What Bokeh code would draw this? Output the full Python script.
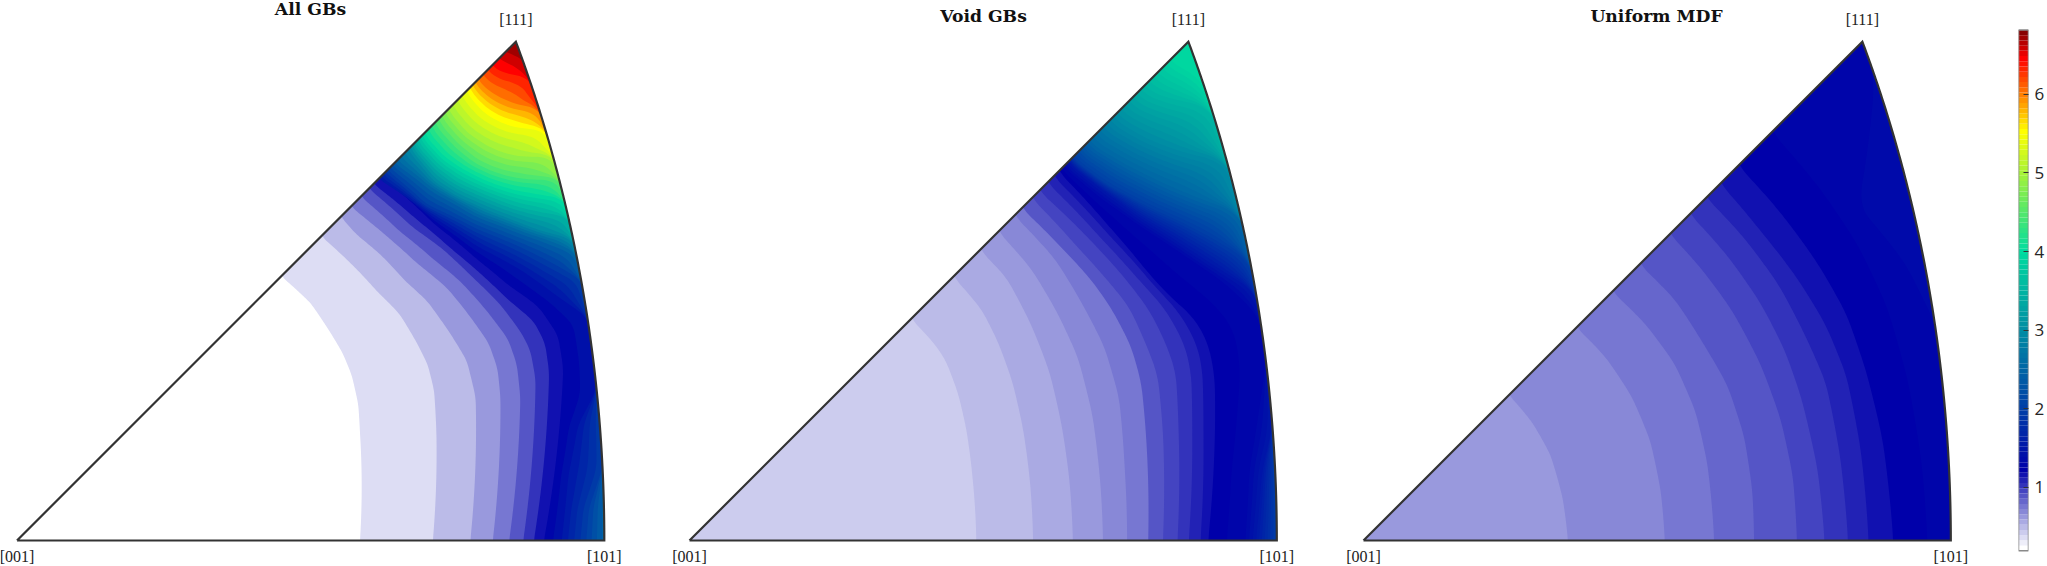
import numpy as np
from bokeh.core.properties import value
from bokeh.embed import file_html
from bokeh.layouts import row
from bokeh.models import FixedTicker, LinearAxis, Range1d
from bokeh.plotting import figure
from bokeh.resources import INLINE

TITLES = ["All GBs", "Void GBs", "Uniform MDF"]
VERTEX_LABELS = ["[001]", "[101]", "[111]"]
CBAR_TICKS = [1, 2, 3, 4, 5, 6]
CBAR_MIN, CBAR_MAX, CBAR_STEPS = 0.19, 6.82, 100

# isolines of the density; coordinates in % of the [101] radius
ALL_Z = [0.3226, 0.455, 0.588, 0.72, 0.853, 0.986, 1.118, 1.25, 1.5, 2.0, 2.5, 3.0, 3.5, 4.0, 4.5, 5.0, 5.52, 6.0, 6.42, 6.69]
ALL_U = [
    [58.4, 58.4, 58.1, 57.0, 55.5, 53.3, 50.0, 45.2],
    [70.8, 71.4, 71.0, 69.9, 68.1, 65.1, 61.4, 58.1, 52.0],
    [77.2, 78.1, 76.6, 74.0, 69.9, 66.2, 62.2, 57.8, 55.3],
    [81.0, 82.3, 81.8, 80.3, 77.3, 73.3, 68.1, 64.0, 59.6, 57.0],
    [83.8, 85.7, 85.1, 83.6, 79.9, 75.5, 71.0, 65.1, 58.7],
    [86.2, 88.3, 87.4, 85.8, 82.1, 77.7, 72.5, 67.4, 60.0],
    [88.0, 90.6, 89.9, 88.0, 83.6, 78.4, 74.0, 68.1, 60.7],
    [89.7, 93.0, 92.1, 88.8, 83.6, 78.4, 71.0, 62.2],
    [92.6, 93.7, 95.4, 97.4, 98.4, 97.0, 91.7, 85.8, 78.4, 71.0, 61.5],
    [96.6, 97.1, 98.3, 99.4, 96.2, 91.0, 85.8, 78.4, 69.6, 62.6],
    [100.0, 95.3, 91.0, 85.8, 78.4, 71.0, 64.0],
    [94.8, 89.7, 85.2, 80.1, 75.0, 71.0, 67.0],
    [94.0, 89.2, 84.6, 79.5, 75.0, 71.6, 68.2],
    [93.2, 89.2, 84.6, 80.1, 76.1, 72.7, 69.6],
    [91.7, 86.9, 82.4, 78.4, 75.0, 71.9],
    [90.7, 86.9, 83.5, 80.1, 76.7, 73.8],
    [89.6, 86.3, 82.9, 79.8, 77.0],
    [88.6, 86.3, 83.5, 80.7, 78.4],
    [86.8, 85.2, 82.9, 80.8],
    [86.2, 84.6, 82.9],
]
ALL_V = [
    [0, 18.3, 23.2, 28.1, 31.8, 35.5, 40.4, 44.8],
    [0, 18.3, 25.6, 30.0, 33.6, 38.6, 42.3, 45.9, 51.6],
    [0, 24.4, 30.6, 34.9, 40.7, 44.1, 48.4, 52.1, 54.9],
    [0, 24.4, 29.3, 33.6, 37.9, 42.9, 47.2, 50.9, 54.6, 56.7],
    [0, 24.4, 30.0, 34.3, 39.2, 44.1, 47.8, 52.7, 58.4],
    [0, 27.5, 32.4, 35.5, 40.4, 44.7, 49.6, 53.3, 59.8],
    [0, 28.7, 33.6, 37.3, 41.0, 45.9, 49.6, 54.6, 60.7],
    [0, 29.3, 34.9, 39.8, 43.5, 47.8, 53.9, 61.9],
    [0, 11.2, 19.7, 25.4, 28.2, 37.9, 41.6, 45.9, 49.9, 54.9, 61.5],
    [0, 5.5, 12.3, 18.0, 44.4, 46.9, 49.6, 52.7, 57.0, 63.2],
    [0, 49.0, 50.6, 52.4, 55.2, 59.5, 64.7],
    [51.5, 52.6, 54.3, 56.3, 58.6, 61.2, 66.1],
    [55.2, 55.8, 56.9, 58.9, 60.9, 63.4, 67.1],
    [58.3, 58.6, 59.4, 60.9, 62.9, 65.1, 68.5],
    [61.4, 61.7, 62.6, 64.3, 67.1, 70.5],
    [65.4, 65.4, 66.0, 67.4, 69.7, 73.1],
    [70.0, 70.2, 71.1, 72.8, 75.9],
    [73.5, 73.8, 74.5, 75.9, 78.1],
    [78.9, 79.0, 79.6, 80.6],
    [81.0, 81.9, 82.6],
]

VOID_K = [4, 5, 6, 7, 8, 10, 11, 12, 13, 14, 15]
VOID_Z = [0.455, 0.5215, 0.588, 0.654, 0.72, 0.853, 0.919, 0.986, 1.052, 1.118, 1.1845, 1.317, 1.5, 2.0, 2.5, 3.0, 3.5, 3.9]
VOID_U = [
    [48.8, 48.2, 47.1, 45.7, 43.6, 41.8, 37.9],
    [58.5, 58.0, 56.8, 55.0, 52.6, 49.8, 45.1],
    [65.3, 64.7, 63.4, 61.3, 58.2, 54.0, 49.7],
    [70.4, 70.0, 68.6, 66.1, 62.7, 58.2, 52.7],
    [74.5, 74.1, 73.1, 70.6, 66.8, 62.3, 55.4],
    [78.1, 77.7, 76.9, 75.2, 72.0, 68.6, 63.0, 56.6],
    [80.6, 80.6, 79.7, 77.9, 74.8, 71.3, 65.8, 58.3],
    [83.1, 83.3, 82.8, 81.1, 78.3, 74.1, 67.9, 59.5],
    [85.0, 85.6, 85.4, 84.2, 81.1, 76.2, 70.0, 60.9],
    [87.0, 87.5, 87.3, 86.3, 83.5, 79.0, 71.3, 62.0],
    [88.3, 89.5, 89.4, 88.3, 85.9, 81.7, 78.3, 71.3, 62.7],
    [94.6, 95.3, 97.0, 98.0, 97.3, 91.5, 85.2, 76.9, 70.0, 63.4],
    [96.3, 97.4, 99.2, 96.3, 90.8, 85.2, 76.9, 70.0, 64.1],
    [100.0, 95.8, 90.8, 85.2, 78.3, 71.3, 65.1],
    [93.6, 88.7, 81.7, 74.8, 67.9],
    [91.2, 85.2, 78.3, 72.0],
    [88.7, 82.4, 76.9],
    [86.8, 83.8, 81.4],
]
VOID_V = [
    [0, 10.3, 18.9, 25.0, 30.6, 33.3, 37.5],
    [0, 9.7, 18.9, 26.9, 33.6, 39.2, 44.7],
    [0, 10.3, 19.5, 28.7, 36.7, 44.7, 49.2],
    [0, 9.0, 21.3, 31.2, 38.6, 46.2, 52.4],
    [0, 12.1, 24.4, 33.0, 40.4, 47.8, 55.2],
    [0, 18.3, 26.9, 33.0, 39.2, 44.1, 50.2, 56.5],
    [0, 18.3, 28.1, 33.0, 39.8, 44.1, 50.2, 58.2],
    [0, 18.3, 28.7, 33.6, 39.2, 44.7, 51.5, 59.5],
    [0, 18.3, 28.7, 33.6, 39.2, 44.7, 51.5, 60.9],
    [0, 18.3, 29.3, 33.6, 38.6, 43.5, 52.1, 61.9],
    [0, 21.3, 28.1, 33.6, 37.9, 41.6, 45.3, 53.6, 62.9],
    [0, 12.1, 22.6, 30.6, 37.9, 43.5, 47.8, 53.3, 58.2, 63.7],
    [0, 12.1, 19.5, 42.3, 45.6, 49.3, 54.6, 59.8, 64.4],
    [0, 47.8, 50.6, 53.6, 56.7, 60.4, 65.0],
    [55.8, 57.3, 60.1, 63.5, 67.5],
    [64.7, 65.9, 68.4, 72.1],
    [73.9, 74.8, 77.0],
    [79.2, 80.1, 81.6],
]

UNIF_K = [7, 8, 9, 10, 11, 12, 13, 14, 15, 16, 17]
UNIF_U = [
    [34.8, 33.9, 31.8, 28.7, 24.9],
    [51.3, 50.6, 48.8, 45.7, 41.2, 36.5],
    [59.7, 58.5, 56.5, 53.0, 48.1, 42.6],
    [66.5, 66.2, 64.8, 62.0, 57.8, 53.0, 47.3],
    [73.8, 73.1, 71.0, 67.6, 62.7, 57.8, 52.2],
    [78.5, 77.3, 74.5, 71.7, 67.6, 62.0, 55.6],
    [82.5, 81.1, 78.7, 75.2, 70.7, 64.8, 58.3],
    [86.0, 84.6, 82.2, 78.7, 73.8, 67.6, 60.8],
    [90.2, 88.4, 85.6, 82.2, 77.3, 71.0, 63.9],
    [96.0, 95.0, 92.6, 89.1, 84.2, 78.0, 69.7],
    [97.5, 92.2, 84.2, 88.0],
]
UNIF_V = [
    [0, 7.2, 14.6, 20.1, 24.6],
    [0, 8.4, 17.0, 24.4, 31.2, 36.0],
    [0, 13.3, 22.0, 30.0, 36.7, 42.1],
    [0, 8.4, 17.7, 26.3, 33.6, 41.0, 46.7],
    [0, 10.9, 20.7, 30.0, 39.2, 45.9, 52.1],
    [0, 12.1, 24.4, 32.4, 40.4, 48.4, 55.5],
    [0, 14.6, 26.9, 34.9, 43.5, 51.5, 58.4],
    [0, 15.8, 28.1, 36.7, 44.7, 52.7, 60.7],
    [0, 17.0, 28.7, 38.6, 47.2, 55.8, 63.7],
    [0, 13.3, 27.5, 39.8, 50.2, 59.5, 69.3],
    [37.0, 47.2, 57.0, 80.0],
]

# colormap knots (colorbar step index, rgb)
CM_K = [0, 15, 57, 80, 94, 99]
CM_R = [255, 0, 0, 255, 255, 136]
CM_G = [255, 0, 220, 255, 0, 0]
CM_B = [255, 170, 160, 0, 0, 0]
STEP = (CBAR_MAX - CBAR_MIN) / CBAR_STEPS


def cmap(k):
    return "#%02x%02x%02x" % (
        int(round(np.interp(k, CM_K, CM_R))),
        int(round(np.interp(k, CM_K, CM_G))),
        int(round(np.interp(k, CM_K, CM_B))),
    )


PHI = np.linspace(0.0, 45.0, 181)


def arc_radius(phi_deg):
    """Equal-area radius of the (101)-(111) great circle, relative to [101]."""
    phi = np.radians(phi_deg)
    theta = np.arctan(1.0 / np.cos(phi))
    return np.sin(theta / 2.0) / np.sin(np.pi / 8.0)


RAD = arc_radius(PHI)
EDGE_X, EDGE_Y = RAD * np.cos(np.radians(PHI)), RAD * np.sin(np.radians(PHI))


def isoline_t(u, v, soften):
    u, v = np.array(u) / 100.0, np.array(v) / 100.0
    ph = np.degrees(np.arctan2(v, u))
    t = np.hypot(u, v) / arc_radius(ph)
    t = np.where(t > 0.985, 1.0, t)
    order = np.argsort(ph)
    line = np.interp(PHI, ph[order], t[order])
    n = int(soften * 4)
    if n > 0:
        pad = np.concatenate([np.full(n, line[0]), line, np.full(n, line[-1])])
        line = np.convolve(pad, np.ones(2 * n + 1) / (2 * n + 1), mode="valid")
    return line


def bands(anchor_z, us, vs, levels, colors, base_color, soften):
    T = np.array([isoline_t(u, v, soften) for u, v in zip(us, vs)])
    xs = [[0.0] + list(EDGE_X)]
    ys = [[0.0] + list(EDGE_Y)]
    fills = [base_color]
    for lev, col in zip(levels, colors):
        t = np.array([np.interp(lev, anchor_z, T[:, i]) for i in range(len(PHI))])
        c, s = np.cos(np.radians(PHI)), np.sin(np.radians(PHI))
        xs.append(list(t * RAD * c) + list(EDGE_X[::-1]))
        ys.append(list(t * RAD * s) + list(EDGE_Y[::-1]))
        fills.append(col)
    return xs, ys, fills


UNIT = 587.3
BASE_PY = 540.0
FIG_H = 566


def panel(width, left_px, title, title_cx, title_cy, xs, ys, fills):
    x0 = -left_px / UNIT
    p = figure(width=width, height=FIG_H, output_backend="svg", toolbar_location=None,
               x_range=Range1d(x0, x0 + width / UNIT),
               y_range=Range1d((BASE_PY - FIG_H) / UNIT, BASE_PY / UNIT),
               min_border=0, x_axis_type=None, y_axis_type=None, outline_line_color=None)
    p.grid.visible = False
    p.patches(xs, ys, fill_color=fills, line_color=None)
    bx = [0.0] + list(EDGE_X) + [0.0]
    by = [0.0] + list(EDGE_Y) + [0.0]
    p.line(bx, by, line_color="#333333", line_width=2.2, line_join="miter")
    vx = [0.0, 1.0, float(EDGE_X[-1])]
    vy = [0.0, 0.0, float(EDGE_Y[-1])]
    p.text(vx[:2], vy[:2], text=VERTEX_LABELS[:2], text_font=value("Liberation Serif"),
           text_font_size="16px", text_color="#222222", text_align="center",
           text_baseline="middle", y_offset=16)
    p.text(vx[2:], vy[2:], text=VERTEX_LABELS[2:], text_font=value("Liberation Serif"),
           text_font_size="16px", text_color="#222222", text_align="center",
           text_baseline="middle", y_offset=-22)
    p.text([(title_cx - left_px) / UNIT], [(BASE_PY - title_cy) / UNIT], text=[title],
           text_font=value("DejaVu Serif"), text_font_style="bold", text_font_size="17.2px",
           text_color="#111111", text_align="center", text_baseline="middle")
    return p


# All GBs: every second colormap step
all_levels = [CBAR_MIN + 2 * STEP * j for j in range(1, 50)]
all_colors = [cmap(2 * j) for j in range(1, 50)]
a = bands(ALL_Z, ALL_U, ALL_V, all_levels, all_colors, cmap(0), 0.75)

void_k = VOID_K + list(range(16, 57))
void_levels = [CBAR_MIN + STEP * k for k in void_k]
v = bands(VOID_Z, VOID_U, VOID_V, void_levels, [cmap(k) for k in void_k], cmap(3), 1.5)

unif_z = [CBAR_MIN + STEP * k for k in UNIF_K]
u = bands(unif_z, UNIF_U, UNIF_V, unif_z, [cmap(k) for k in UNIF_K], cmap(6), 1.5)

p1 = panel(672, 16.5, TITLES[0], 310, 8.5, *a)
p2 = panel(668, 17.0, TITLES[1], 983 - 672, 15, *v)
p3 = panel(640, 23.0, TITLES[2], 1656 - 1340, 15, *u)

# colorbar: the frame spans the whole height so that the rows line up
PX_PER_UNIT = 78.6
CB_TOP = 6.0 + 94.0 / PX_PER_UNIT
CB_BOTTOM = 1.0 - (566.0 - 486.6) / PX_PER_UNIT
cb = figure(width=67, height=FIG_H, output_backend="svg", toolbar_location=None,
            x_range=Range1d(0, 1), y_range=Range1d(CB_BOTTOM, CB_TOP),
            x_axis_type=None, y_axis_type=None,
            min_border_left=38, min_border_right=16, min_border_top=0, min_border_bottom=0,
            outline_line_color=None)
cb.grid.visible = False
edges = CBAR_MIN + STEP * np.arange(CBAR_STEPS + 1)
cb.quad(left=0, right=1, bottom=edges[:-1], top=edges[1:],
        fill_color=[cmap(k) for k in range(CBAR_STEPS)], line_color=None)
cb.quad(left=[0], right=[1], bottom=[CBAR_MIN], top=[CBAR_MAX], fill_color=None,
        line_color="#8a8a8a", line_width=1.5)
ax = LinearAxis(ticker=FixedTicker(ticks=CBAR_TICKS), axis_line_color=None,
                major_tick_in=5, major_tick_out=0, minor_tick_line_color=None,
                major_tick_line_color="#333333", major_label_standoff=6,
                major_label_text_font="Open Sans", major_label_text_font_size="17px",
                major_label_text_color="#262626")
cb.add_layout(ax, "right")

page = row(p1, p2, p3, cb, spacing=0, margin=0)
open("out.html", "w").write(file_html(page, INLINE))
